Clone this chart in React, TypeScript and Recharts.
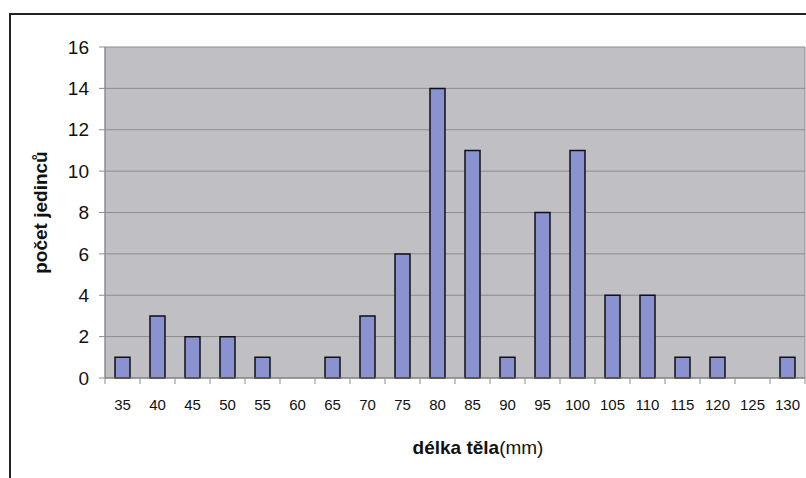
import { Bar, BarChart, CartesianGrid, XAxis, YAxis } from "recharts";

// body length classes (mm) and number of individuals in each
const lengthClasses = ["35", "40", "45", "50", "55", "60", "65", "70", "75", "80", "85", "90", "95", "100", "105", "110", "115", "120", "125", "130"];
const counts = [1, 3, 2, 2, 1, 0, 1, 3, 6, 14, 11, 1, 8, 11, 4, 4, 1, 1, 0, 1];
const yTicks = [0, 2, 4, 6, 8, 10, 12, 14, 16];

const W = 806;
const H = 478;
const PLOT_LEFT = 105;
const PLOT_RIGHT = 805;
const HALF_BAND = (PLOT_RIGHT - PLOT_LEFT) / lengthClasses.length / 2;

const FONT = '"Liberation Sans", Arial, sans-serif';
const GRID = "#8c8c8c";

const rows = lengthClasses.map((len, i) => ({ len, count: counts[i] }));

function LengthTick(props: any) {
  const { x, y, payload, index } = props;
  const last = index === lengthClasses.length - 1;
  return (
    <g>
      <line x1={x - HALF_BAND} x2={x - HALF_BAND} y1={y} y2={y + 6} stroke={GRID} />
      {last && <line x1={x + HALF_BAND} x2={x + HALF_BAND} y1={y} y2={y + 6} stroke={GRID} />}
      <text x={x} y={y + 32} textAnchor="middle" fontSize={15} fill="#111" fontFamily={FONT}>
        {payload.value}
      </text>
    </g>
  );
}

function AxisTitle(props: any) {
  const { viewBox } = props;
  return (
    <text x={viewBox.x + viewBox.width / 2 + 23} y={viewBox.y + 76} textAnchor="middle" fontSize={19} fill="#111" fontFamily={FONT}>
      <tspan fontWeight="bold">délka těla</tspan>
      <tspan>(mm)</tspan>
    </text>
  );
}

export default function App() {
  return (
    <div style={{ position: "absolute", left: 0, top: 0, width: W, height: H, overflow: "hidden", background: "#fff" }}>
      <div style={{ position: "absolute", left: 9, top: 13, width: 900, height: 600, border: "2px solid #222" }} />
      <div style={{ position: "absolute", left: 0, top: 0 }}>
        <BarChart width={W} height={H} data={rows} margin={{ top: 47, right: 1, bottom: 60, left: 0 }} barSize={15}>
          <CartesianGrid
            stroke={GRID}
            fill="#c0c0c4"
            horizontal
            vertical
            verticalPoints={[PLOT_LEFT, PLOT_RIGHT]}
          />
          <XAxis
            dataKey="len"
            height={40}
            interval={0}
            tickSize={0}
            tickMargin={0}
            tickLine={false}
            axisLine={{ stroke: "#7a7a7a" }}
            tick={<LengthTick />}
            label={<AxisTitle />}
          />
          <YAxis
            width={105}
            domain={[0, 16]}
            ticks={yTicks}
            interval={0}
            tickSize={6}
            tickMargin={10}
            tickLine={{ stroke: GRID }}
            axisLine={{ stroke: GRID }}
            tick={{ fontSize: 19, fill: "#111", fontFamily: FONT }}
            label={{
              value: "počet jedinců",
              angle: -90,
              position: "insideLeft",
              dx: 35,
              dy: 0,
              style: { fontSize: 19, fontWeight: "bold", fill: "#111", fontFamily: FONT, textAnchor: "middle" },
            }}
          />
          <Bar dataKey="count" fill="#8a93cf" stroke="#111" strokeWidth={1.5} isAnimationActive={false} />
        </BarChart>
      </div>
    </div>
  );
}
